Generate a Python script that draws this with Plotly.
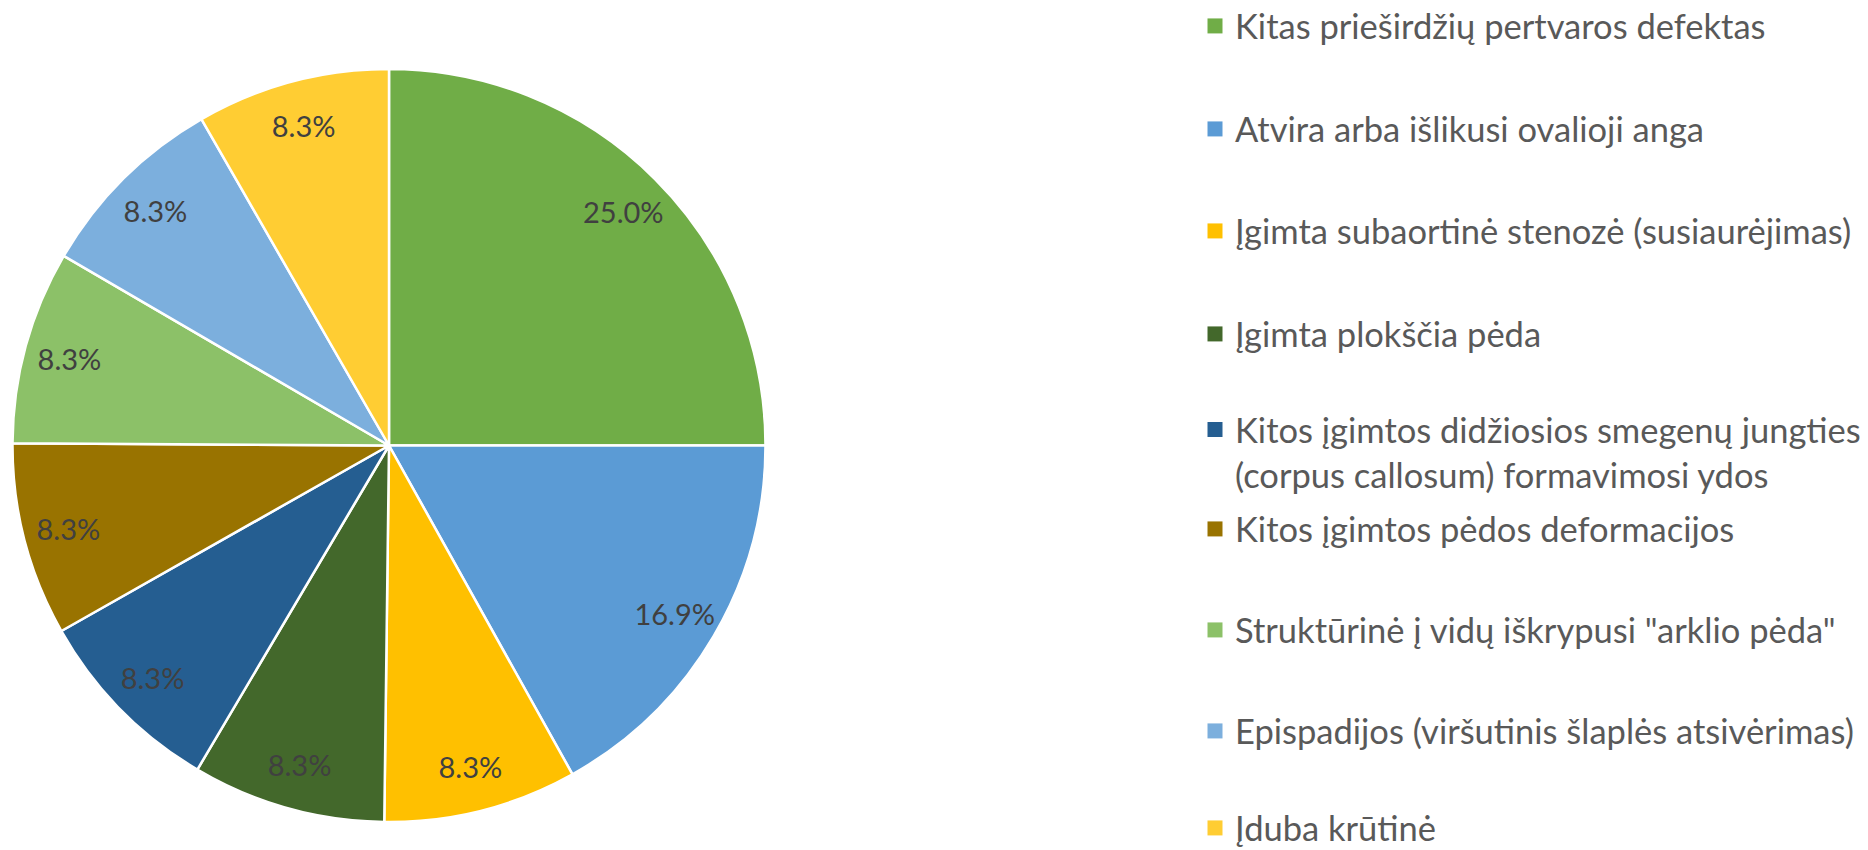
import plotly.graph_objects as go

labels = [
    "Kitas prieširdžių pertvaros defektas",
    "Atvira arba išlikusi ovalioji anga",
    "Įgimta subaortinė stenozė (susiaurėjimas)",
    "Įgimta plokščia pėda",
    "Kitos įgimtos didžiosios smegenų jungties<br>(corpus callosum) formavimosi ydos",
    "Kitos įgimtos pėdos deformacijos",
    "Struktūrinė į vidų iškrypusi \"arklio pėda\"",
    "Epispadijos (viršutinis šlaplės atsivėrimas)",
    "Įduba krūtinė",
]
values = [25.0, 16.9, 8.3, 8.3, 8.3, 8.3, 8.3, 8.3, 8.3]
colors = ["#70AD47", "#5B9BD5", "#FFC000", "#43682B", "#255E91",
          "#997300", "#8CC168", "#7CAFDD", "#FFCD33"]

W, H = 1868, 850
FONT = "Lato"
pie_domain = dict(x=[12 / W, 766 / W], y=[1 - 822 / H, 1 - 69 / H])

fig = go.Figure()
# filled slices
fig.add_trace(go.Pie(
    labels=labels, values=values, sort=False, direction="clockwise", rotation=0,
    marker=dict(colors=colors, line=dict(color="white", width=2.5)),
    textinfo="none", showlegend=False, hoverinfo="label+percent",
    domain=pie_domain,
))
# transparent ring on top carrying the percentage labels near the rim
fig.add_trace(go.Pie(
    labels=labels, values=values, sort=False, direction="clockwise", rotation=0,
    hole=0.76,
    marker=dict(colors=["rgba(0,0,0,0)"] * len(values), line=dict(width=0)),
    texttemplate="%{percent:.1%}", textposition="inside",
    insidetextorientation="horizontal",
    textfont=dict(family=FONT, size=29, color="#404040"),
    showlegend=False, hoverinfo="skip",
    domain=pie_domain,
))

# legend entries (one legend per entry so spacing can match the original)
legend_y_px = [26, 129, 231, 334, 452, 529, 630, 731, 828]
for i, (lab, col) in enumerate(zip(labels, colors)):
    key = "legend" if i == 0 else f"legend{i + 1}"
    fig.add_trace(go.Scatter(
        x=[None], y=[None], mode="markers", name=lab,
        marker=dict(symbol="square", size=15, color=col),
        legend=key, hoverinfo="skip",
    ))
    fig.layout[key] = dict(
        x=1195 / W, xanchor="left", y=1 - legend_y_px[i] / H, yanchor="middle",
        font=dict(family=FONT, size=34.5, color="#595959"),
        bgcolor="rgba(0,0,0,0)", valign="top", itemclick=False, itemdoubleclick=False,
    )

fig.update_layout(
    width=W, height=H, margin=dict(l=0, r=0, t=0, b=0, autoexpand=False),
    paper_bgcolor="white", plot_bgcolor="white",
    xaxis=dict(visible=False), yaxis=dict(visible=False),
    font=dict(family=FONT),
)

fig.write_html("out.html", config={"displayModeBar": False},
               post_script="document.body.style.margin='0';")
